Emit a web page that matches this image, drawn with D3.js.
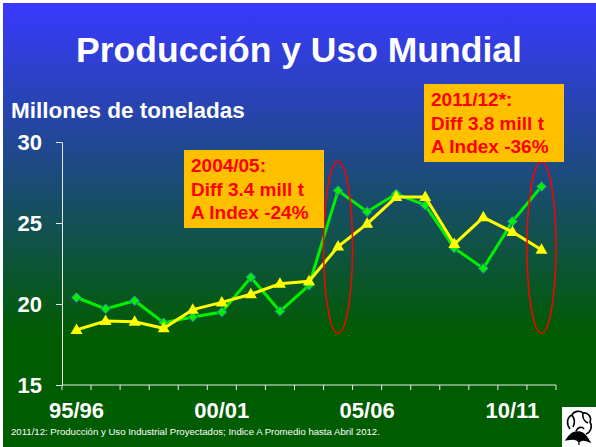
<html>
<head>
<title>Producción y Uso Mundial</title>
<script src="https://d3js.org/d3.v7.min.js"></script>
<style>
  body { margin: 0; background: #ffffff; }
  text { font-family: "Liberation Sans", Arial, sans-serif; }
</style>
</head>
<body>
<svg width="596" height="447"></svg>
<script type="text/javascript">

// campañas 95/96 .. 11/12
var seasons = ["95/96", "96/97", "97/98", "98/99", "99/00", "00/01", "01/02", "02/03", "03/04",
               "04/05", "05/06", "06/07", "07/08", "08/09", "09/10", "10/11", "11/12"];
var produccion = [20.4, 19.7, 20.2, 18.85, 19.2, 19.5, 21.65, 19.55, 21.15,
                  27.0, 25.7, 26.8, 26.1, 23.45, 22.2, 25.1, 27.25];
var uso = [18.4, 18.95, 18.9, 18.5, 19.65, 20.1, 20.6, 21.25, 21.4,
           23.55, 24.95, 26.6, 26.6, 23.7, 25.35, 24.45, 23.35];
var yTicks = [15, 20, 25, 30];
var xLabels = ["95/96", "00/01", "05/06", "10/11"];

// elipses rojas: campaña, valor inferior, valor superior
var circled = [["04/05", 18.2, 28.8], ["11/12", 18.2, 28.8]];

var notes = [
  { x: 184, y: 150, w: 140, h: 78, lines: ["2004/05:", "Diff 3.4 mill t", "A Index -24%"] },
  { x: 424, y: 84, w: 140, h: 78, lines: ["2011/12*:", "Diff 3.8 mill t", "A Index -36%"] }
];

var svg = d3.select("svg");

var grad = svg.append("defs").append("linearGradient")
    .attr("id", "bg")
    .attr("x1", 0).attr("y1", 0).attr("x2", 0).attr("y2", 1);
grad.append("stop").attr("offset", "0%").attr("stop-color", "#3939ff");
grad.append("stop").attr("offset", "75%").attr("stop-color", "#005c00");
grad.append("stop").attr("offset", "100%").attr("stop-color", "#005c00");

svg.append("rect")
    .attr("x", 3).attr("y", 3)
    .attr("width", 593).attr("height", 444)
    .attr("fill", "url(#bg)");

svg.append("text")
    .attr("x", 299).attr("y", 62)
    .attr("text-anchor", "middle")
    .attr("font-size", 35.5)
    .attr("font-weight", "bold")
    .attr("fill", "#ffffff")
    .text("Producción y Uso Mundial");

svg.append("text")
    .attr("x", 11).attr("y", 118)
    .attr("font-size", 22.5)
    .attr("font-weight", "bold")
    .attr("fill", "#ffffff")
    .text("Millones de toneladas");

var xScale = d3.scaleBand()
    .domain(seasons)
    .range([62, 556]);

var yScale = d3.scaleLinear()
    .domain([15, 30])
    .range([385, 142]);

// eje y
var yAxis = svg.append("g")
    .attr("transform", "translate(62,0)")
    .call(d3.axisLeft(yScale).tickValues(yTicks).tickSize(6).tickPadding(14).tickSizeOuter(0));
yAxis.select(".domain").attr("stroke", "#e8e8e8");
yAxis.selectAll(".tick line").attr("stroke", "#e8e8e8");
yAxis.selectAll(".tick text")
    .attr("fill", "#ffffff")
    .attr("font-size", 22)
    .attr("font-weight", "bold")
    .attr("font-family", "Liberation Sans, Arial, sans-serif");

// eje x: marcas entre campañas
svg.append("line")
    .attr("x1", 62).attr("x2", 556)
    .attr("y1", yScale(15)).attr("y2", yScale(15))
    .attr("stroke", "#e8e8e8");

var tickPos = seasons.map(function(d) { return xScale(d); }).concat([xScale.range()[1]]);
svg.selectAll(".xtick")
    .data(tickPos)
    .enter().append("line")
    .attr("class", "xtick")
    .attr("x1", function(d) { return d; })
    .attr("x2", function(d) { return d; })
    .attr("y1", yScale(15))
    .attr("y2", yScale(15) + 5)
    .attr("stroke", "#e8e8e8");

svg.selectAll(".xlabel")
    .data(xLabels)
    .enter().append("text")
    .attr("class", "xlabel")
    .attr("x", function(d) { return xScale(d) + xScale.bandwidth() / 2; })
    .attr("y", 418)
    .attr("text-anchor", "middle")
    .attr("font-size", 22)
    .attr("font-weight", "bold")
    .attr("fill", "#ffffff")
    .text(function(d) { return d; });

var cx = function(d, i) { return xScale(seasons[i]) + xScale.bandwidth() / 2; };

var line = d3.line()
    .x(cx)
    .y(function(d) { return yScale(d); });

// produccion (verde, rombos)
svg.append("path")
    .datum(produccion)
    .attr("d", line)
    .attr("fill", "none")
    .attr("stroke", "#00f000")
    .attr("stroke-width", 3);

svg.selectAll(".prod")
    .data(produccion)
    .enter().append("path")
    .attr("class", "prod")
    .attr("d", "M0,-5L5,0L0,5L-5,0Z")
    .attr("transform", function(d, i) { return "translate(" + cx(d, i) + "," + yScale(d) + ")"; })
    .attr("fill", "#00f000")
    .attr("stroke", "#3a5fc8")
    .attr("stroke-width", 1);

// uso industrial (amarillo, triangulos)
svg.append("path")
    .datum(uso)
    .attr("d", line)
    .attr("fill", "none")
    .attr("stroke", "#ffff00")
    .attr("stroke-width", 3);

svg.selectAll(".uso")
    .data(uso)
    .enter().append("path")
    .attr("class", "uso")
    .attr("d", "M0,-6.5L6,4L-6,4Z")
    .attr("transform", function(d, i) { return "translate(" + cx(d, i) + "," + yScale(d) + ")"; })
    .attr("fill", "#ffff00");

// elipses
svg.selectAll(".ring")
    .data(circled)
    .enter().append("ellipse")
    .attr("class", "ring")
    .attr("cx", function(d) { return xScale(d[0]) + xScale.bandwidth() / 2; })
    .attr("cy", function(d) { return (yScale(d[1]) + yScale(d[2])) / 2; })
    .attr("rx", 14.5)
    .attr("ry", function(d) { return (yScale(d[1]) - yScale(d[2])) / 2; })
    .attr("fill", "none")
    .attr("stroke", "#ff0000")
    .attr("stroke-width", 1.5);

// recuadros
var box = svg.selectAll(".note")
    .data(notes)
    .enter().append("g")
    .attr("class", "note")
    .attr("transform", function(d) { return "translate(" + d.x + "," + d.y + ")"; });

box.append("rect")
    .attr("width", function(d) { return d.w; })
    .attr("height", function(d) { return d.h; })
    .attr("fill", "#ffc000");

box.selectAll("text")
    .data(function(d) { return d.lines; })
    .enter().append("text")
    .attr("x", 7)
    .attr("y", function(d, i) { return 22 + i * 23.5; })
    .attr("font-size", 19)
    .attr("font-weight", "bold")
    .attr("fill", "#ff0000")
    .text(function(d) { return d; });

svg.append("text")
    .attr("x", 11).attr("y", 435)
    .attr("font-size", 9.6)
    .attr("fill", "#ffffff")
    .text("2011/12: Producción y Uso Industrial Proyectados;  Indice A Promedio hasta Abril 2012.");

// logo algodon
var logo = svg.append("g").attr("transform", "translate(562,407)");
logo.append("rect").attr("width", 34).attr("height", 40).attr("fill", "#ffffff");
logo.append("path")
    .attr("d", "M8,22 C4,17 5,10 10,8 C12,4 18,3 21,6 C26,5 30,10 28,15 C31,20 28,26 24,27 M10,8 C13,12 13,16 11,20 M21,6 C20,11 22,14 26,16 M14,24 C16,20 20,19 22,22")
    .attr("fill", "none")
    .attr("stroke", "#000000")
    .attr("stroke-width", 1.6);
logo.append("path")
    .attr("d", "M4,33 C8,27 12,24 16,25 C20,24 24,28 28,35 C23,33 20,32 17,35 C14,31 9,32 4,33 Z M16,25 L17,38")
    .attr("fill", "#000000")
    .attr("stroke", "#000000")
    .attr("stroke-width", 1.2);

</script>
</body>
</html>
